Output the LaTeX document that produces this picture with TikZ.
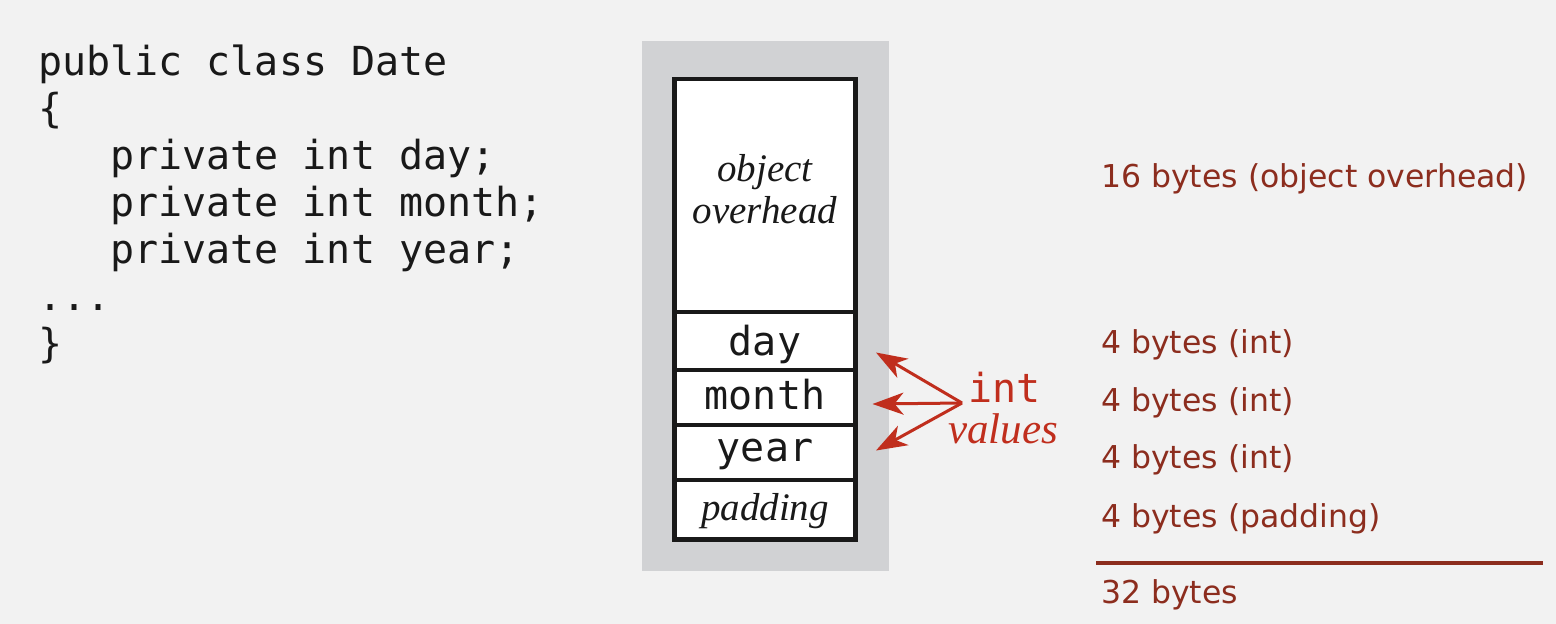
\documentclass[tikz,border=0pt]{standalone}
\usepackage{fontspec}
\newfontfamily\codefont{DejaVu Sans Mono}
\newfontfamily\notefont{DejaVu Sans}
\newfontfamily\cellfont{Liberation Serif}
\usetikzlibrary{arrows.meta}
\definecolor{pagebg}{RGB}{242,242,242}
\definecolor{objgray}{RGB}{209,210,212}
\definecolor{arrowred}{RGB}{192,46,29}
\definecolor{notered}{RGB}{140,45,30}

\begin{document}
\begin{tikzpicture}
[x=1pt,y=-1pt,
  codeLine/.style={anchor=base west,inner sep=0pt,text=black!90,
    font=\codefont\fontsize{40}{47}\selectfont},%
  cellDecorate/.style={draw=black!90,line width=4.5pt,fill=white,
    minimum width=181,inner sep=0pt},%
  monoLabel/.style={anchor=base,inner sep=0pt,text=black!90,
    font=\codefont\fontsize{40}{47}\selectfont},%
  italLabel/.style={anchor=base,inner sep=0pt,text=black!90,
    font=\cellfont\itshape\fontsize{39}{43}\selectfont},%
  byteNote/.style={anchor=base west,inner sep=0pt,text=notered,
    font=\notefont\fontsize{31.5}{36}\selectfont},%
  lineDecorate/.style={arrowred,line width=3pt,
    -{Stealth[length=31pt,width=22pt,inset=9pt]}}]
%% page and object background
\useasboundingbox[fill=pagebg] (0,0) rectangle (1556,624);
\fill[objgray] (642,41) rectangle (889,571);
%% source code
\foreach \linename/\y/\txt in {
  c1/75/{public class Date}, c2/122/{\{},
  c3/169/{\hspace*{72pt}private int day;},
  c4/216/{\hspace*{72pt}private int month;},
  c5/263/{\hspace*{72pt}private int year;},
  c6/310/{...}, c7/357/{\}}}
{
  \node (\linename) at (38,\y) [codeLine] {\txt};
}
%% memory cells
\foreach \cellname/\ytop/\ybot in {
  head/79/312, day/312/370, month/370/425, year/425/480, pad/480/539.5}
{
  \node (\cellname) at (765,{(\ytop+\ybot)/2})
    [cellDecorate,minimum height={\ybot-\ytop}] {};
}
\node (objTxt) at (765,181) [italLabel] {object};
\node (ovhTxt) at (765,223) [italLabel] {overhead};
\foreach \labelname/\y/\txt in {dayTxt/355/day, monthTxt/409/month,
  yearTxt/461/year}
{
  \node (\labelname) at (765,\y) [monoLabel] {\txt};
}
\node (padTxt) at (765,520) [italLabel] {padding};
%% int values
\node (intTxt) at (968,402) [anchor=base west,inner sep=0pt,text=arrowred,
  font=\codefont\fontsize{40}{47}\selectfont] {int};
\node (valTxt) at (1003,443) [italLabel,text=arrowred,
  font=\cellfont\itshape\fontsize{43}{47}\selectfont] {values};
\coordinate (fork) at (962,403);
\coordinate (dayTip) at (876,352.5);
\coordinate (monthTip) at (872.5,404);
\coordinate (yearTip) at (876,450.5);
\path
\foreach \endnode in {dayTip, monthTip, yearTip}
{
  (fork) edge[lineDecorate] (\endnode)
};
%% byte counts
\foreach \notename/\y/\txt in {
  n1/187/{16 bytes (object overhead)}, n2/353/{4 bytes (int)},
  n3/411/{4 bytes (int)}, n4/468/{4 bytes (int)},
  n5/527/{4 bytes (padding)}, n6/603/{32 bytes}}
{
  \node (\notename) at (1101,\y) [byteNote] {\txt};
}
\coordinate (sumL) at (1096,563);
\coordinate (sumR) at (1543,563);
\draw[notered,line width=4pt] (sumL) -- (sumR);
\end{tikzpicture}
\end{document}
